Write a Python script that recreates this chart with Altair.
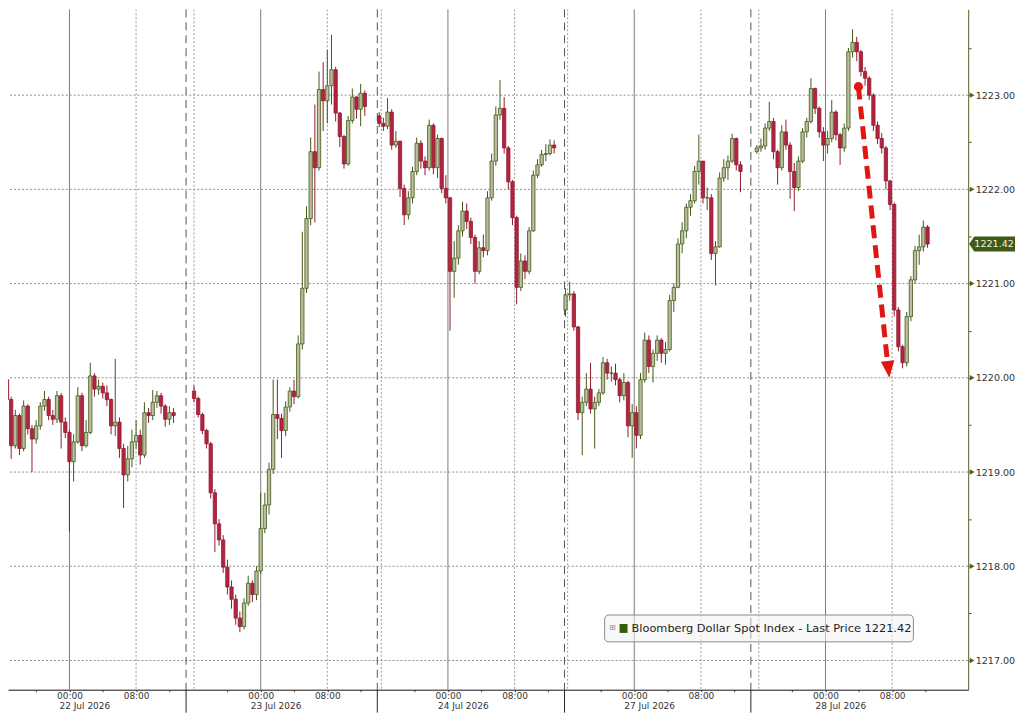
import altair as alt
import pandas as pd

# ---------------- data ----------------
dates = ["22 Jul 2026", "23 Jul 2026", "24 Jul 2026", "27 Jul 2026", "28 Jul 2026"]
# position (hours) of each day's 00:00 on Bloomberg's gap-free intraday axis
day_offset_h = [0.0, 22.96, 45.44, 67.81, 90.77]
# first 30-minute bar of each session, hours relative to that day's 00:00
first_bar_h = [-8.0, -8.0, -8.25, -8.25, -8.25]
session_close_h = 14.0
first_open = [1220.02, 1219.86, 1222.78, 1220.72, 1222.40]

close_22 = [1219.98, 1219.77, 1219.28, 1219.60, 1219.25, 1219.70, 1219.46, 1219.35, 1219.49, 1219.70,
            1219.77, 1219.60, 1219.56, 1219.81, 1219.53, 1219.42, 1219.11, 1219.32, 1219.81, 1219.28,
            1219.42, 1220.02, 1219.88, 1219.91, 1219.84, 1219.77, 1219.49, 1219.53, 1219.25, 1218.97,
            1219.14, 1219.32, 1219.39, 1219.18, 1219.63, 1219.60, 1219.74, 1219.81, 1219.70, 1219.56,
            1219.63, 1219.60]
high_22 = [1220.04, 1219.99, 1219.80, 1219.66, 1219.62, 1219.76, 1219.72, 1219.50, 1219.55, 1219.74,
           1219.86, 1219.80, 1219.66, 1219.86, 1219.84, 1219.58, 1219.45, 1219.40, 1219.90, 1219.84,
           1219.55, 1220.16, 1220.05, 1219.98, 1219.95, 1219.92, 1219.78, 1220.20, 1219.58, 1219.30,
           1219.28, 1219.45, 1219.55, 1219.45, 1219.74, 1219.68, 1219.87, 1219.86, 1219.84, 1219.72,
           1219.70, 1219.68]
low_22 = [1219.92, 1219.72, 1219.14, 1219.25, 1219.18, 1219.22, 1219.40, 1219.00, 1219.30, 1219.45,
          1219.65, 1219.55, 1219.50, 1219.52, 1219.25, 1219.36, 1218.37, 1218.90, 1219.30, 1219.22,
          1219.26, 1219.40, 1219.80, 1219.82, 1219.78, 1219.70, 1219.40, 1219.38, 1219.15, 1218.62,
          1218.90, 1219.05, 1219.25, 1219.08, 1219.15, 1219.52, 1219.55, 1219.68, 1219.62, 1219.48,
          1219.50, 1219.52]

close_23 = [1219.78, 1219.61, 1219.44, 1219.30, 1218.78, 1218.45, 1218.28, 1217.99, 1217.78, 1217.65,
            1217.45, 1217.36, 1217.61, 1217.82, 1217.70, 1217.95, 1218.40, 1218.65, 1219.03, 1219.61,
            1219.57, 1219.44, 1219.69, 1219.86, 1219.80, 1220.36, 1220.95, 1221.69, 1222.40, 1222.23,
            1223.06, 1222.94, 1223.10, 1223.27, 1222.81, 1222.56, 1222.27, 1222.73, 1222.98, 1222.85,
            1223.02, 1222.88]
high_23 = [1219.92, 1219.80, 1219.63, 1219.46, 1219.32, 1218.82, 1218.50, 1218.33, 1218.07, 1217.85,
           1217.70, 1217.52, 1217.66, 1217.90, 1217.85, 1218.00, 1218.78, 1218.78, 1219.10, 1219.98,
           1219.98, 1219.62, 1219.75, 1219.90, 1219.98, 1220.45, 1221.55, 1221.82, 1222.55, 1222.90,
           1223.25, 1223.35, 1223.48, 1223.64, 1223.30, 1222.82, 1222.58, 1222.78, 1223.07, 1222.99,
           1223.12, 1223.05]
low_23 = [1219.74, 1219.58, 1219.40, 1219.25, 1218.72, 1218.15, 1218.22, 1217.93, 1217.70, 1217.55,
          1217.38, 1217.30, 1217.33, 1217.58, 1217.62, 1217.64, 1217.92, 1218.35, 1218.55, 1218.98,
          1219.35, 1219.15, 1219.38, 1219.64, 1219.72, 1219.78, 1220.30, 1220.90, 1221.62, 1221.65,
          1222.20, 1222.62, 1222.70, 1222.90, 1222.72, 1222.45, 1222.22, 1222.25, 1222.70, 1222.75,
          1222.67, 1222.78]

close_24 = [1222.70, 1222.67, 1222.82, 1222.47, 1222.51, 1222.01, 1221.73, 1221.91, 1222.19, 1222.49,
            1222.30, 1222.23, 1222.68, 1222.23, 1222.54, 1222.01, 1221.91, 1221.13, 1221.27, 1221.56,
            1221.77, 1221.66, 1221.49, 1221.13, 1221.38, 1221.35, 1221.91, 1222.30, 1222.79, 1222.86,
            1222.44, 1222.08, 1221.70, 1220.96, 1221.24, 1221.13, 1221.56, 1222.15, 1222.26, 1222.37,
            1222.38, 1222.47, 1222.44]
high_24 = [1222.82, 1222.76, 1222.97, 1222.85, 1222.62, 1222.52, 1222.05, 1221.98, 1222.24, 1222.55,
           1222.52, 1222.35, 1222.74, 1222.70, 1222.58, 1222.55, 1222.15, 1221.92, 1221.45, 1221.62,
           1221.87, 1221.85, 1221.70, 1221.52, 1221.45, 1221.52, 1221.98, 1222.38, 1222.88, 1223.16,
           1222.98, 1222.46, 1222.10, 1221.72, 1221.32, 1221.30, 1221.60, 1222.20, 1222.32, 1222.42,
           1222.48, 1222.53, 1222.52]
low_24 = [1222.66, 1222.62, 1222.64, 1222.42, 1222.44, 1221.92, 1221.62, 1221.68, 1221.85, 1222.15,
          1222.22, 1222.15, 1222.20, 1222.16, 1222.12, 1221.96, 1221.85, 1220.50, 1220.85, 1221.20,
          1221.50, 1221.58, 1221.42, 1221.00, 1221.10, 1221.28, 1221.30, 1221.88, 1222.25, 1222.74,
          1222.38, 1222.00, 1221.62, 1220.78, 1220.92, 1221.05, 1221.10, 1221.55, 1222.12, 1222.24,
          1222.30, 1222.36, 1222.38]

close_27 = [1220.88, 1220.89, 1220.54, 1219.63, 1219.74, 1219.88, 1219.67, 1219.74, 1219.84, 1220.16,
            1220.05, 1220.05, 1219.98, 1219.81, 1219.95, 1219.49, 1219.63, 1219.39, 1219.98, 1220.40,
            1220.12, 1220.26, 1220.40, 1220.26, 1220.30, 1220.82, 1220.96, 1221.42, 1221.56, 1221.81,
            1221.88, 1222.19, 1222.30, 1221.91, 1221.91, 1221.32, 1221.39, 1222.12, 1222.23, 1222.30,
            1222.54, 1222.26, 1222.19]
high_27 = [1220.95, 1221.02, 1220.92, 1220.55, 1219.80, 1220.05, 1220.16, 1219.80, 1219.88, 1220.22,
           1220.20, 1220.12, 1220.15, 1220.00, 1220.05, 1219.97, 1219.72, 1219.70, 1220.05, 1220.48,
           1220.45, 1220.30, 1220.45, 1220.42, 1220.38, 1220.88, 1221.00, 1221.48, 1221.65, 1221.85,
           1221.95, 1222.25, 1222.58, 1222.30, 1222.02, 1221.95, 1221.45, 1222.18, 1222.32, 1222.36,
           1222.59, 1222.55, 1222.30]
low_27 = [1220.65, 1220.82, 1220.50, 1219.55, 1219.18, 1219.70, 1219.62, 1219.25, 1219.70, 1219.82,
          1219.98, 1219.96, 1219.92, 1219.74, 1219.76, 1219.37, 1219.15, 1219.25, 1219.35, 1219.95,
          1220.05, 1219.95, 1220.18, 1220.16, 1220.14, 1220.28, 1220.70, 1220.95, 1221.32, 1221.48,
          1221.72, 1221.85, 1222.05, 1221.85, 1221.78, 1221.25, 1220.98, 1221.38, 1222.08, 1222.10,
          1222.28, 1222.20, 1221.97]

close_28 = [1222.44, 1222.46, 1222.65, 1222.72, 1222.40, 1222.23, 1222.61, 1222.47, 1222.19, 1222.02,
            1222.30, 1222.61, 1222.72, 1223.07, 1222.86, 1222.61, 1222.47, 1222.54, 1222.82, 1222.58,
            1222.44, 1222.65, 1223.46, 1223.56, 1223.46, 1223.25, 1223.18, 1223.00, 1222.68, 1222.54,
            1222.44, 1222.09, 1221.84, 1220.72, 1220.33, 1220.16, 1220.65, 1221.04, 1221.35, 1221.39,
            1221.60, 1221.42]
high_28 = [1222.47, 1222.54, 1222.70, 1222.93, 1222.76, 1222.42, 1222.68, 1222.74, 1222.50, 1222.28,
           1222.35, 1222.65, 1222.76, 1223.18, 1223.08, 1222.88, 1222.66, 1222.62, 1222.95, 1222.84,
           1222.60, 1222.70, 1223.50, 1223.70, 1223.62, 1223.48, 1223.30, 1223.20, 1223.02, 1222.72,
           1222.60, 1222.46, 1222.10, 1221.86, 1220.75, 1220.35, 1220.70, 1221.08, 1221.40, 1221.52,
           1221.67, 1221.62]
low_28 = [1222.38, 1222.40, 1222.42, 1222.62, 1222.32, 1222.05, 1222.20, 1222.42, 1221.90, 1221.77,
          1221.98, 1222.28, 1222.55, 1222.70, 1222.80, 1222.55, 1222.30, 1222.38, 1222.50, 1222.52,
          1222.26, 1222.40, 1222.62, 1223.40, 1223.36, 1223.20, 1223.10, 1222.95, 1222.62, 1222.48,
          1222.38, 1222.00, 1221.78, 1220.65, 1220.28, 1220.10, 1220.12, 1220.60, 1221.00, 1221.20,
          1221.34, 1221.38]

closes = [close_22, close_23, close_24, close_27, close_28]
highs = [high_22, high_23, high_24, high_27, high_28]
lows = [low_22, low_23, low_24, low_27, low_28]

price_levels = [1217, 1218, 1219, 1220, 1221, 1222, 1223]
series_name = "Bloomberg Dollar Spot Index - Last Price"

# annotation arrow (time-axis hours, price)
arrow_start = (94.72, 1223.09)
arrow_line_end = (98.2, 1220.18)
arrow_tip = (98.43, 1220.00)

# ---------------- frames ----------------
rows = []
for k in range(len(dates)):
    prev = first_open[k]
    for i, c in enumerate(closes[k]):
        rows.append({
            "x": day_offset_h[k] + first_bar_h[k] + 0.5 * i,
            "open": prev, "close": c, "high": highs[k][i], "low": lows[k][i],
            "dir": "up" if c >= prev else "down",
        })
        prev = c
candles = pd.DataFrame(rows)
last_price = closes[-1][-1]

W, H = 964, 683
PX_PER_H = 8.45
X_DOMAIN = [-6.78, -6.78 + W / PX_PER_H]
Y_DOMAIN = [1216.69, 1223.91]
xs = alt.Scale(domain=X_DOMAIN, nice=False, zero=False)
ys = alt.Scale(domain=Y_DOMAIN, nice=False, zero=False)

FONT = "DejaVu Sans"
OLIVE = "#4d6420"
UP_FILL, UP_STROKE = "#bcbd9f", "#3f5a14"
DN_FILL, DN_STROKE = "#b4243f", "#8f1b30"
RED = "#e3160f"

zero_vals = [round(o, 3) for o in day_offset_h]
eight_vals = [round(o + 8, 3) for o in day_offset_h]
tick_vals = sorted(round(o + h, 3) for o in day_offset_h for h in (-4, 0, 4, 8, 12))
cond0 = " || ".join(f"datum.value == {v!r}" for v in zero_vals)
cond8 = " || ".join(f"datum.value == {v!r}" for v in eight_vals)
x_label_expr = f"({cond0}) ? '00:00' : (({cond8}) ? '08:00' : '')"

x_axis = alt.Axis(values=tick_vals, labelExpr=x_label_expr, orient="bottom", grid=False,
                  domainColor="#111111", domainWidth=1, tickColor="#444444", tickSize=2,
                  labelPadding=0, labelFont=FONT, labelFontSize=9, labelColor="#333333",
                  labelOverlap=False, labelFlush=False, title=None)
y_axis = alt.Axis(orient="right", values=[1217 + 0.5 * j for j in range(14)],
                  labelExpr="datum.value % 1 == 0 ? format(datum.value, '.2f') : ''",
                  grid=False, tickSize=3, tickColor=OLIVE, domainColor=OLIVE, domainWidth=1,
                  labelPadding=4, labelFont=FONT, labelFontSize=9.6, labelColor="#333333",
                  labelOverlap=False, labelFlush=False, title=None)


def gx(f="x"):
    return alt.X(f"{f}:Q", scale=xs, axis=x_axis)


def gy(f="y"):
    return alt.Y(f"{f}:Q", scale=ys, axis=y_axis)


# gridlines
hgrid = alt.Chart(pd.DataFrame({"y": price_levels})).mark_rule(
    color="#8c8c8c", strokeDash=[2, 2], strokeWidth=1).encode(y=gy())
vsolid = alt.Chart(pd.DataFrame({"x": zero_vals})).mark_rule(
    color="#7c7c7c", strokeWidth=1).encode(x=gx())
dotted_x = eight_vals + [round(o - 8, 3) for o in day_offset_h[1:]]
vdotted = alt.Chart(pd.DataFrame({"x": dotted_x})).mark_rule(
    color="#9a9a9a", strokeDash=[2, 2], strokeWidth=1, clip=True).encode(x=gx())
breaks = pd.DataFrame({"x": [o + session_close_h for o in day_offset_h[:-1]]})
vbreak = alt.Chart(breaks).mark_rule(
    color="#555555", strokeDash=[8, 5], strokeWidth=1).encode(x=gx())
vbreak_below = alt.Chart(breaks).mark_rule(color="#222222", strokeWidth=1, clip=False).encode(
    x=gx(), y=alt.value(H), y2=alt.value(H + 23))

# candles
wicks = alt.Chart(candles).mark_rule(strokeWidth=1, clip=True).encode(
    x=gx(), y=gy("low"), y2="high:Q",
    color=alt.Color("dir:N", scale=alt.Scale(domain=["up", "down"], range=[UP_STROKE, DN_STROKE]),
                    legend=None),
)
bodies = alt.Chart(candles).mark_bar(size=3.3, strokeWidth=0.8, clip=True).encode(
    x=gx(), y=gy("open"), y2="close:Q",
    fill=alt.Fill("dir:N", scale=alt.Scale(domain=["up", "down"], range=[UP_FILL, DN_FILL]), legend=None),
    stroke=alt.Stroke("dir:N", scale=alt.Scale(domain=["up", "down"], range=[UP_STROKE, DN_STROKE]),
                      legend=None),
)

# right-axis markers and last-price tag
markers = alt.Chart(pd.DataFrame({"y": price_levels})).mark_point(
    shape="triangle-right", filled=True, size=30, color=OLIVE, opacity=1, clip=False).encode(
    y=gy(), x=alt.value(W + 4))
tag_df = pd.DataFrame({"y": [last_price], "t": [f"{last_price:.2f}"]})
tag = alt.Chart(tag_df).mark_point(
    shape="M -1 0 L -0.78 -0.326 L 1 -0.326 L 1 0.326 L -0.78 0.326 Z", filled=True, size=2116,
    color="#3f5a16", opacity=1, clip=False).encode(y=gy(), x=alt.value(W + 24))
tag_text = alt.Chart(tag_df).mark_text(
    font=FONT, fontSize=9.6, color="#eef3df", align="center", baseline="middle", clip=False
).encode(y=gy(), x=alt.value(W + 26), text="t:N")

# date row under the time labels
date_df = pd.DataFrame({"x": zero_vals, "d": dates})
date_text = alt.Chart(date_df).mark_text(
    font=FONT, fontSize=9, color="#333333", align="left", baseline="top", dx=-10, clip=False
).encode(x=gx(), y=alt.value(H + 12.5), text="d:N")

# red dashed arrow
arrow_line = alt.Chart(pd.DataFrame({"x": [arrow_start[0], arrow_line_end[0]],
                                     "y": [arrow_start[1], arrow_line_end[1]]})).mark_line(
    color=RED, strokeWidth=5, strokeDash=[13, 7]).encode(x=gx(), y=gy())
arrow_dot = alt.Chart(pd.DataFrame({"x": [arrow_start[0]], "y": [arrow_start[1]]})).mark_point(
    shape="circle", filled=True, size=85, color=RED, opacity=1).encode(x=gx(), y=gy())
arrow_head = alt.Chart(pd.DataFrame({"x": [arrow_tip[0] - 0.1], "y": [arrow_tip[1] + 0.089]})).mark_point(
    shape="M -0.8 -1 L 0.8 -1 L 0 1 Z", filled=True, size=289, angle=354, color=RED, opacity=1
).encode(x=gx(), y=gy())

# legend box
one = pd.DataFrame({"t": [f"{series_name} {last_price:.2f}"]})
leg_box = alt.Chart(one).mark_rect(
    fill="#f2f2f2", fillOpacity=0.55, stroke="#8a8a8a", strokeWidth=1, cornerRadius=4).encode(
    x=alt.value(599), x2=alt.value(909), y=alt.value(608), y2=alt.value(635))
leg_icon = alt.Chart(one).mark_text(text="⊞", font=FONT, fontSize=8, color="#888888",
                                    align="center", baseline="middle").encode(
    x=alt.value(607), y=alt.value(621.5))
leg_sq = alt.Chart(one).mark_rect(fill="#355a0a").encode(
    x=alt.value(614), x2=alt.value(622), y=alt.value(617), y2=alt.value(626))
leg_text = alt.Chart(one).mark_text(font=FONT, fontSize=11.4, color="#222222",
                                    align="left", baseline="middle").encode(
    x=alt.value(626), y=alt.value(622), text="t:N")

chart = alt.layer(
    hgrid, vsolid, vdotted, vbreak, vbreak_below,
    wicks, bodies,
    markers, tag, tag_text, date_text,
    arrow_line, arrow_dot, arrow_head,
    leg_box, leg_icon, leg_sq, leg_text,
).properties(
    width=W, height=H,
    autosize=alt.AutoSizeParams(type="none"),
    padding={"left": 0, "top": 0, "right": 48, "bottom": 23},
    background="white",
).configure_view(stroke=None)

chart.save("out.html", embed_options={"renderer": "svg", "actions": False})
